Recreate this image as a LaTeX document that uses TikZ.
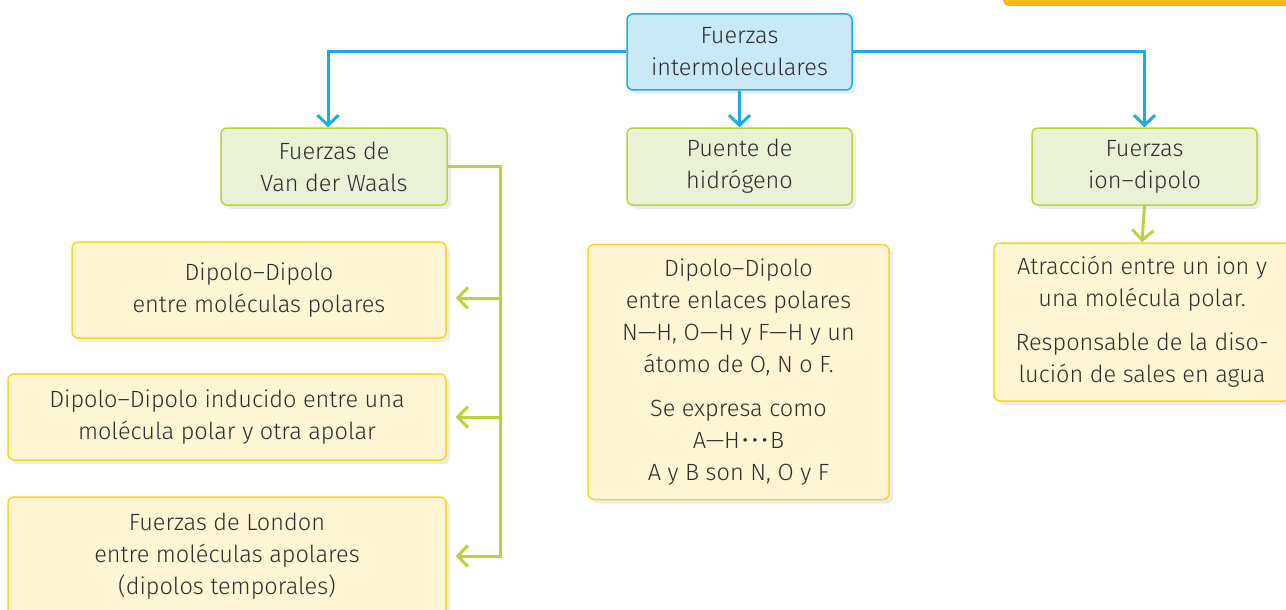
\documentclass[tikz,border=0pt]{standalone}
\usepackage{fontspec}
\setmainfont{Fira Sans}[UprightFont={* Light}]
\usetikzlibrary{arrows.meta,shadows}
\definecolor{bluefill}{HTML}{C9E8F8}
\definecolor{blueline}{HTML}{1DABE3}
\definecolor{greenfill}{HTML}{EAF1D5}
\definecolor{greenline}{HTML}{B7D43A}
\definecolor{yellowfill}{HTML}{FEF5D4}
\definecolor{yellowline}{HTML}{FCD322}
\definecolor{tabcol}{HTML}{FDB817}
\definecolor{txt}{HTML}{2E2E2E}
\begin{document}
\begin{tikzpicture}[x=1pt,y=-1pt,
  box/.style={rectangle, rounded corners=6pt, line width=1.5pt, align=center,
    inner sep=0pt, text=txt, font=\fontsize{23.5}{32}\selectfont,
    drop shadow={opacity=0.15, shadow xshift=4pt, shadow yshift=-4pt}},
  bluebox/.style={box, draw=blueline, fill=bluefill},
  greenbox/.style={box, draw=greenline, fill=greenfill},
  yellowbox/.style={box, draw=yellowline, fill=yellowfill},
  barrow/.style={draw=blueline, line width=3pt, -{Straight Barb[length=10pt,width=21pt]}},
  garrow/.style={draw=greenline, line width=3pt, -{Straight Barb[length=10pt,width=21pt]}}]
\useasboundingbox (0,0) rectangle (1286,610);

\fill[tabcol, rounded corners=6pt] (1003,-10) rectangle (1296,6);

\node[bluebox, minimum width=225pt, minimum height=76pt] (top) at (739.5,52) {Fuerzas\\intermoleculares};

\node[greenbox, minimum width=226pt, minimum height=77pt] (vdw) at (334,166.5) {Fuerzas de\\Van der Waals};
\node[greenbox, minimum width=225pt, minimum height=77pt] (puente) at (739.5,166.5) {Puente de\\hidrógeno};
\node[greenbox, minimum width=225pt, minimum height=77pt] (ion) at (1144.5,166.5) {Fuerzas\\ion–dipolo};

\node[yellowbox, minimum width=374pt, minimum height=96pt] (dd) at (259,290) {Dipolo–Dipolo\\entre moléculas polares};
\node[yellowbox, minimum width=438pt, minimum height=86pt] (ddi) at (227,417) {Dipolo–Dipolo inducido entre una\\molécula polar y otra apolar};
\node[yellowbox, minimum width=438pt, minimum height=118pt] (london) at (227,556) {Fuerzas de London\\entre moléculas apolares\\(dipolos temporales)};

\node[yellowbox, minimum width=301pt, minimum height=255pt] (hb) at (738.5,372) {Dipolo–Dipolo\\entre enlaces polares\\N—H, O—H y F—H y un\\átomo de O, N o F.\\[12pt]Se expresa como\\A—H\hspace{2pt}•\hspace{3pt}•\hspace{3pt}•\hspace{2pt}B\\A y B son N, O y F};
\node[yellowbox, minimum width=296pt, minimum height=158pt] (ionbox) at (1142,322) {Atracción entre un ion y\\una molécula polar.\\[12pt]Responsable de la diso-\\lución de sales en agua};

\draw[barrow] (top.west) -| ([xshift=-6pt]vdw.north);
\draw[barrow] (top.south) -- (puente.north);
\draw[barrow] (top.east) -| (ion.north);
\draw[garrow] (ion.south) -- (ionbox.north);

\coordinate (b1) at (500,298);
\coordinate (b2) at (500,417);
\coordinate (b3) at (500,556);
\draw[garrow, shorten >=9pt] (vdw.east) -| (b3) -- (b3 -| london.east);
\draw[garrow, shorten >=9pt] (b1) -- (b1 -| dd.east);
\draw[garrow, shorten >=9pt] (b2) -- (b2 -| ddi.east);
\end{tikzpicture}
\end{document}
